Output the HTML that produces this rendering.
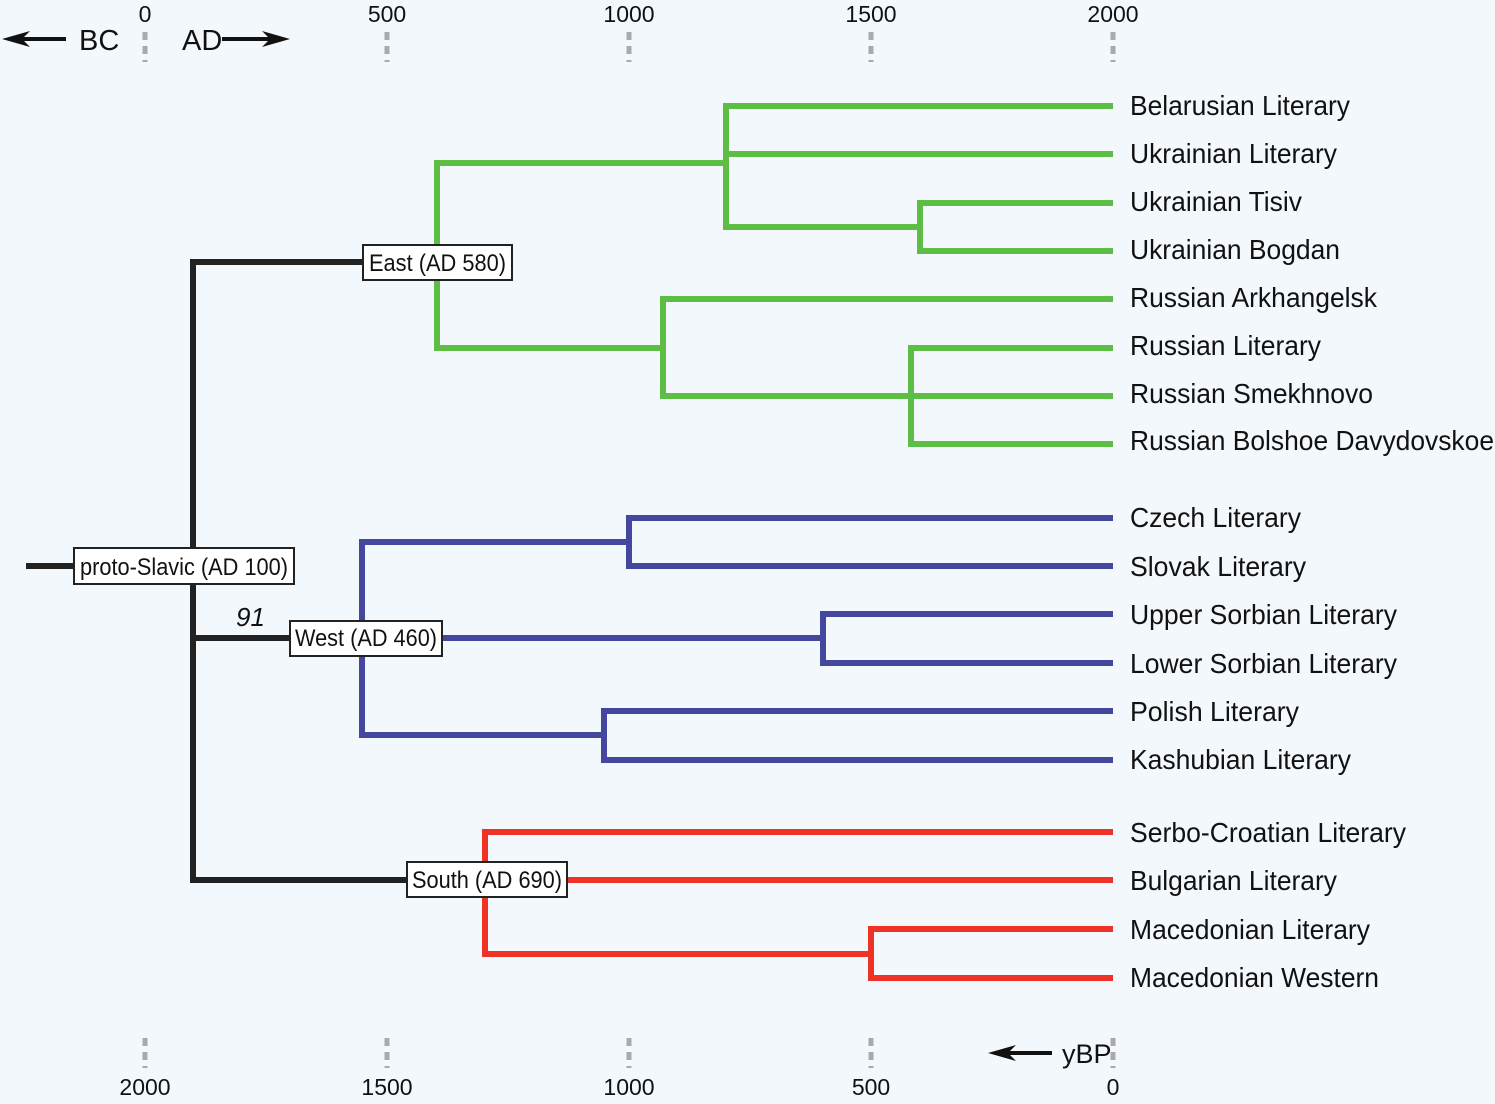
<!DOCTYPE html>
<html><head><meta charset="utf-8"><style>
html,body{margin:0;padding:0;background:#f3f8fd;}
svg{display:block;font-family:"Liberation Sans",sans-serif;}
</style></head><body>
<svg width="1495" height="1104" viewBox="0 0 1495 1104" xmlns="http://www.w3.org/2000/svg">
<rect width="1495" height="1104" fill="#f3f8fd"/>
<g stroke="#aaa" stroke-width="5" stroke-dasharray="8,6">
<line x1="145" y1="32" x2="145" y2="62"/><line x1="387" y1="32" x2="387" y2="62"/><line x1="629" y1="32" x2="629" y2="62"/><line x1="871" y1="32" x2="871" y2="62"/><line x1="1113" y1="32" x2="1113" y2="62"/>
<line x1="145" y1="1038" x2="145" y2="1068"/><line x1="387" y1="1038" x2="387" y2="1068"/><line x1="629" y1="1038" x2="629" y2="1068"/><line x1="871" y1="1038" x2="871" y2="1068"/><line x1="1113" y1="1038" x2="1113" y2="1068"/>
</g>
<g font-size="23" fill="#111" text-anchor="middle">
<text x="145" y="22">0</text><text x="387" y="22">500</text><text x="629" y="22">1000</text><text x="871" y="22">1500</text><text x="1113" y="22">2000</text>
<text x="145" y="1095">2000</text><text x="387" y="1095">1500</text><text x="629" y="1095">1000</text><text x="871" y="1095">500</text><text x="1113" y="1095">0</text>
</g>
<g stroke="#111" stroke-width="4">
<line x1="66" y1="39" x2="12" y2="39"/><line x1="222" y1="39" x2="280" y2="39"/><line x1="1052" y1="1053" x2="998" y2="1053"/>
</g>
<g fill="#111">
<path d="M2,39 L30,31 L22,39 L30,47 Z"/><path d="M290,39 L262,31 L270,39 L262,47 Z"/><path d="M988,1053 L1016,1045 L1008,1053 L1016,1061 Z"/>
</g>
<g font-size="29" fill="#111">
<text x="79" y="50">BC</text><text x="182" y="50">AD</text>
</g>
<text x="1062" y="1063" font-size="27" fill="#111">yBP</text>
<g fill="none" stroke-width="6" stroke-linecap="square">
<path stroke="#222" d="M29,566 H75 M193,262 V880 M193,262 H363 M193,638 H290 M193,880 H407"/>
<path stroke="#5dbd45" d="M505,262 H437 M437,163 V348 M437,163 H726 M726,106 V227 M726,106 H1110 M726,154 H1110 M726,227 H920 M920,203 V251 M920,203 H1110 M920,251 H1110 M437,348 H663 M663,299 V396 M663,299 H1110 M663,396 H1110 M911,348 V444 M911,348 H1110 M911,444 H1110"/>
<path stroke="#43489e" d="M442,638 H823 M362,542 V735 M362,542 H629 M629,518 V566 M629,518 H1110 M629,566 H1110 M823,614 V663 M823,614 H1110 M823,663 H1110 M362,735 H604 M604,711 V760 M604,711 H1110 M604,760 H1110"/>
<path stroke="#ee3226" d="M485,832 V954 M485,832 H1110 M567,880 H1110 M485,954 H871 M871,929 V978 M871,929 H1110 M871,978 H1110"/>
</g>
<g stroke="#222" stroke-width="2" fill="#fff">
<rect x="74" y="548" width="220" height="36"/>
<rect x="363" y="245" width="149" height="35"/>
<rect x="290" y="621" width="152" height="35"/>
<rect x="407" y="862" width="160" height="35"/>
</g>
<g font-size="24" fill="#111">
<text x="80" y="575" textLength="208" lengthAdjust="spacingAndGlyphs">proto-Slavic (AD 100)</text>
<text x="369" y="271" textLength="137" lengthAdjust="spacingAndGlyphs">East (AD 580)</text>
<text x="295" y="646" textLength="142" lengthAdjust="spacingAndGlyphs">West (AD 460)</text>
<text x="412" y="888" textLength="150" lengthAdjust="spacingAndGlyphs">South (AD 690)</text>
<text x="236" y="626" font-style="italic" font-size="26">91</text>
</g>
<g font-size="28" fill="#111">
<text x="1130" y="115" textLength="220" lengthAdjust="spacingAndGlyphs">Belarusian Literary</text>
<text x="1130" y="163" textLength="207" lengthAdjust="spacingAndGlyphs">Ukrainian Literary</text>
<text x="1130" y="211" textLength="172" lengthAdjust="spacingAndGlyphs">Ukrainian Tisiv</text>
<text x="1130" y="259" textLength="210" lengthAdjust="spacingAndGlyphs">Ukrainian Bogdan</text>
<text x="1130" y="307" textLength="247" lengthAdjust="spacingAndGlyphs">Russian Arkhangelsk</text>
<text x="1130" y="355" textLength="191" lengthAdjust="spacingAndGlyphs">Russian Literary</text>
<text x="1130" y="403" textLength="243" lengthAdjust="spacingAndGlyphs">Russian Smekhnovo</text>
<text x="1130" y="450" textLength="364" lengthAdjust="spacingAndGlyphs">Russian Bolshoe Davydovskoe</text>
<text x="1130" y="527" textLength="171" lengthAdjust="spacingAndGlyphs">Czech Literary</text>
<text x="1130" y="576" textLength="176" lengthAdjust="spacingAndGlyphs">Slovak Literary</text>
<text x="1130" y="624" textLength="267" lengthAdjust="spacingAndGlyphs">Upper Sorbian Literary</text>
<text x="1130" y="673" textLength="267" lengthAdjust="spacingAndGlyphs">Lower Sorbian Literary</text>
<text x="1130" y="721" textLength="169" lengthAdjust="spacingAndGlyphs">Polish Literary</text>
<text x="1130" y="769" textLength="221" lengthAdjust="spacingAndGlyphs">Kashubian Literary</text>
<text x="1130" y="842" textLength="276" lengthAdjust="spacingAndGlyphs">Serbo-Croatian Literary</text>
<text x="1130" y="890" textLength="207" lengthAdjust="spacingAndGlyphs">Bulgarian Literary</text>
<text x="1130" y="939" textLength="240" lengthAdjust="spacingAndGlyphs">Macedonian Literary</text>
<text x="1130" y="987" textLength="249" lengthAdjust="spacingAndGlyphs">Macedonian Western</text>
</g>
</svg>
</body></html>
